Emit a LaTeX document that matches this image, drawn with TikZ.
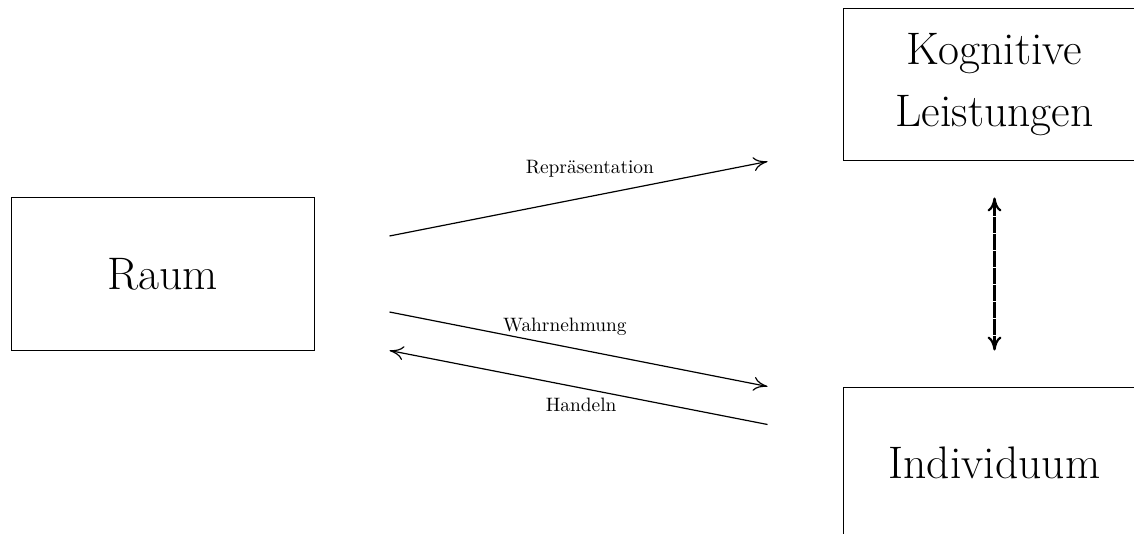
\documentclass[tikz,border=0pt]{standalone}
\usetikzlibrary{arrows.meta}
\begin{document}
\begin{tikzpicture}[x=0.5pt,y=-0.5pt,
  box/.style={draw, line width=0.5pt, minimum width=151.5pt, minimum height=76pt,
    inner sep=0pt, align=center, font=\fontsize{22.8}{31}\selectfont},
  link/.style={line width=0.6pt, -{Computer Modern Rightarrow[length=7pt,width=7pt]}},
  pair/.style={line width=1.1pt, dash pattern=on 8pt off 0.5pt,
    {Computer Modern Rightarrow[length=7pt,width=7pt]}-{Computer Modern Rightarrow[length=7pt,width=7pt]}},
  lbl/.style={font=\fontsize{9.7}{11}\selectfont, inner sep=0pt}]
\clip (0,0) rectangle (1134,534);

% the three blocks
\node[box] (raum) at (162.5,274) {Raum};
\node[box] (kog)  at (994.5,85)  {Kognitive\\Leistungen};
\node[box] (ind)  at (994.5,463) {Individuum};

% relations between space and individual
\draw[link] ([shift={(37.5pt,19pt)}]raum.east) -- ([xshift=-37.5pt]kog.south west)
  node[lbl, pos=0.53, yshift=14pt] {Repräsentation};
\draw[link] ([shift={(37.5pt,-19pt)}]raum.east) -- ([xshift=-37.5pt]ind.north west)
  node[lbl, pos=0.464, yshift=10pt] {Wahrnehmung};
\draw[link] ([shift={(-37.5pt,-19pt)}]ind.north west) -- ([xshift=37.5pt]raum.south east)
  node[lbl, pos=0.493, yshift=-8.5pt] {Handeln};

% mutual link between cognition and individual
\draw[pair] ([yshift=-18pt]kog.south) -- ([yshift=18pt]ind.north);
\end{tikzpicture}
\end{document}
